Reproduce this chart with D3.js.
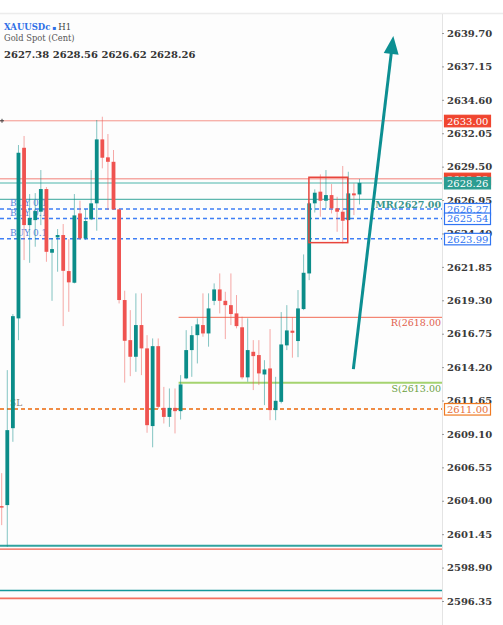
<!DOCTYPE html>
<html><head><meta charset="utf-8">
<script src="https://cdn.jsdelivr.net/npm/d3@7"></script>
<style>html,body{margin:0;padding:0;background:#fff;overflow:hidden}</style>
</head><body><svg id="c" width="503" height="625"></svg>
<script>
// ---- data ----
const symbol = "XAUUSDc";
const timeframe = "H1";
const description = "Gold Spot (Cent)";
const ohlcHeader = [2627.38, 2628.56, 2626.62, 2628.26];

const opens = [2603.59,2603.67,2609.54,2617.92,2630.94,2625.04,2625.42,2626.06,2627.79,2622.93,2624.10,2624.28,2621.53,2620.64,2625.93,2624.03,2625.48,2626.70,2631.58,2630.21,2629.87,2626.24,2619.32,2616.26,2614.99,2617.41,2615.63,2609.70,2615.80,2611.09,2610.40,2611.09,2610.84,2613.34,2615.50,2616.64,2617.41,2616.77,2619.26,2620.13,2619.26,2618.93,2618.30,2617.24,2613.42,2615.37,2615.12,2613.64,2614.10,2610.92,2611.55,2615.86,2616.98,2616.19,2618.63,2621.35,2626.70,2627.59,2626.90,2627.33,2626.32,2626.06,2625.42,2627.46,2627.38];
const highs = [2606.11,2613.97,2618.25,2631.15,2631.84,2627.41,2627.48,2629.24,2627.94,2624.05,2624.74,2625.12,2623.97,2627.41,2626.90,2626.26,2629.24,2633.06,2633.31,2631.99,2630.77,2626.30,2620.03,2618.55,2619.83,2619.83,2616.64,2616.39,2616.39,2612.69,2612.57,2612.57,2613.59,2617.02,2617.33,2617.92,2619.83,2619.83,2620.59,2621.35,2619.95,2621.35,2619.70,2618.05,2617.92,2616.26,2616.26,2614.73,2617.10,2613.46,2618.40,2618.93,2618.00,2620.08,2622.80,2626.80,2627.77,2628.91,2629.24,2628.17,2627.20,2629.55,2629.11,2628.22,2628.56];
const lows = [2602.14,2600.48,2608.50,2616.26,2622.37,2622.16,2623.39,2625.04,2622.24,2619.26,2621.48,2617.33,2618.42,2620.59,2623.90,2623.90,2625.42,2624.61,2629.37,2626.19,2626.19,2619.06,2613.02,2613.51,2613.84,2613.59,2609.19,2608.08,2611.00,2609.90,2609.64,2609.14,2610.20,2613.27,2613.46,2614.48,2616.52,2615.76,2618.93,2618.30,2616.34,2617.41,2617.16,2613.27,2613.08,2612.45,2612.83,2611.30,2610.15,2610.15,2611.43,2615.50,2614.92,2614.96,2618.55,2620.84,2626.00,2625.68,2626.32,2625.93,2624.53,2623.65,2625.42,2625.80,2626.62];
const closes = [2603.48,2609.39,2618.09,2630.56,2625.04,2625.58,2626.11,2627.79,2623.00,2623.21,2624.28,2621.55,2620.67,2625.78,2624.03,2625.35,2626.70,2631.58,2630.18,2629.87,2626.24,2619.32,2616.21,2614.99,2617.41,2615.63,2609.77,2615.80,2611.17,2610.40,2611.09,2610.84,2612.88,2615.50,2616.64,2617.46,2616.77,2618.68,2620.13,2619.26,2618.93,2618.25,2617.33,2613.42,2615.50,2615.04,2613.72,2614.02,2610.92,2611.63,2615.93,2617.00,2616.82,2618.68,2621.40,2626.70,2627.51,2626.90,2627.33,2626.32,2626.06,2625.37,2627.46,2627.31,2628.26];

const tickValues = [2639.70,2637.15,2634.60,2632.05,2629.50,2626.95,2624.40,2621.85,2619.30,2616.75,2614.20,2611.65,2609.10,2606.55,2604.00,2601.45,2598.90,2596.35];

// full-width price lines: value, kind
const lineValues = [2633.00, 2628.58, 2628.26, 2627.00, 2626.27, 2625.54, 2623.99, 2611.00, 2600.56, 2600.31, 2597.16, 2596.55];
const lineKinds  = ["red","ask","bid","mr","buy","buy","buy","sl","tealB","redB","tealB2","redB2"];
// partial lines (support / resistance)
const levelValues = [2618.00, 2613.00];
const levelNames  = ["R(2618.00", "S(2613.00"];
const levelKinds  = ["res", "sup"];
// left-side order texts
const orderTexts = ["BUY 0.1", "BUY 0.1", "BUY 0.1", "SL"];
const orderValues = [2626.27, 2625.54, 2623.99, 2611.00];
// axis labels in boxes
const boxValues = [2633.00, 2628.58, 2628.26, 2626.27, 2625.54, 2623.99, 2611.00];
const boxKinds  = ["redFill","redFill","tealFill","blue","blue","blue","orange"];
// annotation rectangle (index range, price range) and arrow (index, price)
const rectIdx = [54.95, 61.9];
const rectPrice = [2628.69, 2623.70];
const arrowIdx = [62.9, 70.05];
const arrowPrice = [2614.05, 2639.47];

// ---- scales ----
const svg = d3.select("#c");
const W = 503, H = 625, axisX = 442;
const y = d3.scaleLinear().domain([2596.35, 2639.70]).range([601, 33]);
const x = d3.scaleLinear().domain([0, 64]).range([1.7, 359.5]);

const UP = "#0b8d89", DOWN = "#ef5350";
const serif = "'DejaVu Serif', serif";

svg.append("rect").attr("width", W).attr("height", H).attr("fill", "#fff");
svg.append("rect").attr("x", 0).attr("y", 14).attr("width", axisX).attr("height", H - 14).attr("fill", "#fdfdfd");
svg.append("line").attr("x1", 0).attr("x2", W).attr("y1", 13.5).attr("y2", 13.5).attr("stroke", "#ececec").attr("stroke-width", 1.5);
svg.append("line").attr("x1", axisX + 0.5).attr("x2", axisX + 0.5).attr("y1", 14).attr("y2", H).attr("stroke", "#e4e4e4");

// header
const hdr = svg.append("g").style("font-family", serif);
const t1 = hdr.append("text").attr("x", 4).attr("y", 29.5).style("font-size", "8.5px");
t1.append("tspan").text(symbol).attr("fill", "#2f6fe6").style("font-weight", "bold");
t1.append("tspan").text(" \u25AA ").attr("fill", "#2f6fe6").style("font-size", "6px");
t1.append("tspan").text(timeframe).attr("fill", "#444");
hdr.append("text").attr("x", 4).attr("y", 41).style("font-size", "8.3px").attr("fill", "#555").text(description);
hdr.append("text").attr("x", 4).attr("y", 58).style("font-size", "10px").attr("fill", "#333")
  .style("font-weight", "600").text(ohlcHeader.map(d => d.toFixed(2)).join(" "));

// price lines
const lineStyle = {
  red:   {c: "#f4948a", w: 1,   d: null},
  ask:   {c: "#f6a9a4", w: 1.5, d: null},
  bid:   {c: "#86cdc6", w: 1.5, d: null},
  mr:    {c: "#5eb7ae", w: 1.2, d: null},
  buy:   {c: "#3f7ff5", w: 1.5, d: "4,3"},
  sl:    {c: "#f08c45", w: 2,   d: "4,3"},
  tealB: {c: "#2fa3a0", w: 2,   d: null},
  redB:  {c: "#f0604f", w: 1.3, d: null},
  tealB2:{c: "#14989a", w: 1.5, d: null},
  redB2: {c: "#f4705f", w: 1.8, d: null}
};
svg.append("g").selectAll("line").data(lineValues).join("line")
  .attr("x1", 0).attr("x2", axisX)
  .attr("y1", d => y(d)).attr("y2", d => y(d))
  .attr("stroke", (d, i) => lineStyle[lineKinds[i]].c)
  .attr("stroke-width", (d, i) => lineStyle[lineKinds[i]].w)
  .attr("stroke-dasharray", (d, i) => lineStyle[lineKinds[i]].d);

// support/resistance
const levelStyle = {res: {c: "#f26b55", w: 1, t: "#e0604c"}, sup: {c: "#a5d36f", w: 2, t: "#6a9f3f"}};
svg.append("g").selectAll("line").data(levelValues).join("line")
  .attr("x1", x(32) - 2).attr("x2", axisX)
  .attr("y1", d => y(d)).attr("y2", d => y(d))
  .attr("stroke", (d, i) => levelStyle[levelKinds[i]].c)
  .attr("stroke-width", (d, i) => levelStyle[levelKinds[i]].w);
svg.append("g").selectAll("text").data(levelValues).join("text")
  .attr("x", axisX - 1).attr("y", d => y(d) + 9)
  .attr("text-anchor", "end").style("font-family", serif).style("font-size", "9.5px")
  .attr("fill", (d, i) => levelStyle[levelKinds[i]].t).text((d, i) => levelNames[i]);
svg.append("text").attr("x", axisX - 1).attr("y", y(2627.00) + 9)
  .attr("text-anchor", "end").style("font-family", serif).style("font-size", "9.5px")
  .style("font-weight", "600").attr("fill", "#3a968d").text("MR(2627.00");

// order texts
svg.append("g").selectAll("text").data(orderValues).join("text")
  .attr("x", 10).attr("y", d => y(d) - 3)
  .style("font-family", serif).style("font-size", "9px")
  .attr("fill", (d, i) => orderTexts[i] === "SL" ? "#8d7f74" : "#5b86dc")
  .text((d, i) => orderTexts[i]);

// candles
const idx = d3.range(opens.length);
const cg = svg.append("g");
cg.selectAll("line").data(idx).join("line")
  .attr("x1", i => x(i)).attr("x2", i => x(i))
  .attr("y1", i => y(highs[i])).attr("y2", i => y(lows[i]))
  .attr("stroke", i => closes[i] >= opens[i] ? UP : DOWN)
  .attr("stroke-opacity", 0.5).attr("stroke-width", 1);
const bw = 3.8;
cg.selectAll("rect").data(idx).join("rect")
  .attr("x", i => x(i) - bw / 2).attr("width", bw)
  .attr("y", i => y(Math.max(opens[i], closes[i])))
  .attr("height", i => Math.max(1.2, Math.abs(y(opens[i]) - y(closes[i]))))
  .attr("fill", i => closes[i] >= opens[i] ? UP : DOWN);

// annotation rectangle
svg.append("rect")
  .attr("x", x(rectIdx[0])).attr("y", y(rectPrice[0]))
  .attr("width", x(rectIdx[1]) - x(rectIdx[0])).attr("height", y(rectPrice[1]) - y(rectPrice[0]))
  .attr("fill", "none").attr("stroke", "#e8453c").attr("stroke-width", 1.5);

// arrow
const ax0 = x(arrowIdx[0]), ay0 = y(arrowPrice[0]), ax1 = x(arrowIdx[1]), ay1 = y(arrowPrice[1]);
const ang = Math.atan2(ay1 - ay0, ax1 - ax0);
const headLen = 18, headHalf = 7.5;
const bx = ax1 - headLen * Math.cos(ang), by = ay1 - headLen * Math.sin(ang);
const px = -Math.sin(ang), py = Math.cos(ang);
svg.append("line").attr("x1", ax0).attr("y1", ay0).attr("x2", bx + 1 * Math.cos(ang)).attr("y2", by + 1 * Math.sin(ang))
  .attr("stroke", "#0c8f92").attr("stroke-width", 3);
svg.append("path")
  .attr("d", `M${ax1},${ay1}L${bx + px * headHalf},${by + py * headHalf}L${bx - px * headHalf},${by - py * headHalf}Z`)
  .attr("fill", "#0c8f92");

// small crosshair marker
svg.append("path").attr("d", `M0,${y(2633.00)}h4M2,${y(2633.00) - 2}v4`).attr("stroke", "#444").attr("stroke-width", 1);

// axis ticks
const axisG = svg.append("g").attr("transform", `translate(${axisX},0)`);
const axis = d3.axisRight(y).tickValues(tickValues).tickSize(2).tickFormat(d3.format(".2f"));
axisG.call(axis);
axisG.select(".domain").remove();
axisG.selectAll(".tick line").attr("stroke", "#999");
axisG.selectAll(".tick text").attr("x", 5).style("font-family", serif).style("font-size", "10px")
  .attr("fill", "#3a3a3a").style("font-weight", "600");

// boxed labels
const boxStyle = {
  redFill:  {fill: "#f0452f", stroke: "#f0452f", text: "#fff"},
  tealFill: {fill: "#2b9c91", stroke: "#2b9c91", text: "#fff"},
  blue:     {fill: "#fff", stroke: "#2f74f2", text: "#2f74f2"},
  orange:   {fill: "#fff", stroke: "#ef7a22", text: "#e8703a"}
};
const bg = svg.append("g").style("font-family", serif).style("font-size", "10px");
boxValues.forEach((v, i) => {
  const s = boxStyle[boxKinds[i]];
  const yy = y(v);
  bg.append("rect").attr("x", axisX + 2.5).attr("y", yy - 5.5).attr("width", 46).attr("height", 11.5)
    .attr("fill", s.fill).attr("stroke", s.stroke).attr("stroke-width", 1.2);
  bg.append("text").attr("x", axisX + 5).attr("y", yy + 3.8).attr("fill", s.text).text(v.toFixed(2));
});
</script></body></html>
